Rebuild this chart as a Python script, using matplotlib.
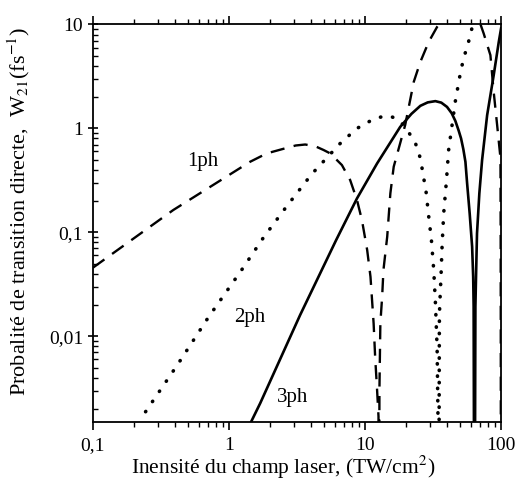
import matplotlib.pyplot as plt
from matplotlib.ticker import FixedLocator, FixedFormatter, LogLocator, NullFormatter

plt.rcParams['font.family'] = ['Liberation Serif', 'DejaVu Serif']
plt.rcParams['mathtext.fontset'] = 'stix'

# 1ph (dashed)
x1 = [0.1, 0.39, 1.43, 1.90, 2.67, 3.1, 3.64, 4.3, 4.97, 5.56, 6.78, 7.80, 8.75, 9.52,
      10.4, 11.0, 11.6, 11.9, 12.3, 12.6, 12.7, 12.8, 13.0, 13.4, 13.7, 14.6, 15.4, 16.3,
      17.2, 19.8, 22.9, 25.6, 29.5, 34.0, 40.0, 50.0, 62.0, 70.0, 74.8, 83.8, 88.6, 93.9,
      99.4, 99.7, 99.9, 100.0]
y1 = [0.0457, 0.164, 0.477, 0.575, 0.65, 0.685, 0.70, 0.675, 0.62, 0.575, 0.444, 0.318,
      0.205, 0.131, 0.0676, 0.0374, 0.0133, 0.00637, 0.00305, 0.00169, 0.00001, 0.00305,
      0.0133, 0.024, 0.0434, 0.0908, 0.237, 0.428, 0.553, 1.08, 2.81, 4.37, 6.81, 9.49,
      12.5, 14.0, 13.0, 10.5, 8.19, 5.07, 2.25, 1.08, 0.518, 0.1, 0.01, 0.001]

# 2ph (dotted)
x2 = [0.244, 0.418, 0.706, 1.24, 1.80, 2.67, 4.07, 6.66, 8.75, 11.6, 13.5, 15.4, 17.5,
      19.8, 23.5, 25.6, 28.2, 29.8, 30.8, 32.1, 33.0, 34.0, 34.5, 34.8, 35.2, 35.3, 35.5,
      36.3, 37.0, 38.0, 39.8, 41.3, 46.3, 51.0, 54.6, 59.0, 66.0]
y2 = [0.00188, 0.0053, 0.0152, 0.0434, 0.0895, 0.179, 0.364, 0.728, 1.0, 1.23, 1.30,
      1.31, 1.22, 1.035, 0.728, 0.515, 0.245, 0.125, 0.0875, 0.0434, 0.0215, 0.00767,
      0.00164, 0.00001, 0.0025, 0.0134, 0.0193, 0.0374, 0.0755, 0.152, 0.313, 0.618,
      1.83, 3.72, 5.26, 7.43, 14.0]

# 3ph (solid)
x3 = [1.38, 1.70, 3.34, 6.15, 8.75, 12.3, 18.2, 22.0, 25.6, 29.0, 33.0, 36.5, 40.2,
      43.5, 46.3, 49.0, 51.0, 53.0, 54.9, 56.5, 59.0, 61.5, 62.6, 63.1, 64.0, 65.0, 65.7,
      66.8, 69.5, 72.8, 79.3, 88.6, 96.6, 100.4]
y3 = [0.0013, 0.00227, 0.016, 0.0843, 0.212, 0.460, 1.035, 1.38, 1.65, 1.78, 1.83, 1.77,
      1.61, 1.40, 1.18, 0.95, 0.80, 0.63, 0.477, 0.296, 0.152, 0.0728, 0.0374, 0.0193,
      0.00001, 0.0193, 0.0374, 0.0977, 0.237, 0.495, 1.34, 3.25, 6.81, 9.16]

labels = ['1ph', '2ph', '3ph']
label_x = [0.645, 1.43, 2.94]
label_y = [0.485, 0.0153, 0.00255]

xticks = [0.1, 1, 10, 100]
xtick_labels = ['0,1', '1', '10', '100']
yticks = [0.01, 0.1, 1, 10]
ytick_labels = ['0,01', '0,1', '1', '10']

fig = plt.figure(figsize=(5.19, 4.8), dpi=100)
ax = fig.add_axes([0.179, 0.121, 0.786, 0.828])

ax.plot(x1, y1, color='black', lw=1.7, linestyle=(0, (6, 4)))
ax.plot(x2, y2, color='black', lw=2.6, linestyle=(0, (0.1, 3.3)), dash_capstyle='round')
ax.plot(x3, y3, color='black', lw=1.9)

for lab, lx, ly in zip(labels, label_x, label_y):
    ax.text(lx, ly, lab, fontsize=15, ha='center', va='center')

ax.set_xscale('log')
ax.set_yscale('log')
ax.set_xlim(0.1, 100)
ax.set_ylim(0.0015, 10)

ax.xaxis.set_major_locator(FixedLocator(xticks))
ax.xaxis.set_major_formatter(FixedFormatter(xtick_labels))
ax.xaxis.set_minor_locator(LogLocator(base=10, subs=range(2, 10)))
ax.xaxis.set_minor_formatter(NullFormatter())
ax.yaxis.set_major_locator(FixedLocator(yticks))
ax.yaxis.set_major_formatter(FixedFormatter(ytick_labels))
ax.yaxis.set_minor_locator(LogLocator(base=10, subs=range(2, 10)))
ax.yaxis.set_minor_formatter(NullFormatter())

ax.tick_params(axis='x', which='both', direction='out', top=True, labelsize=14)
ax.tick_params(axis='x', which='major', length=6, width=1.2, pad=5)
ax.tick_params(axis='x', which='minor', length=3.5, width=1)
ax.tick_params(axis='y', which='major', direction='inout', length=7, width=1.2, labelsize=14)
ax.tick_params(axis='y', which='minor', direction='in', length=3.5, width=1)

for s in ax.spines.values():
    s.set_linewidth(1.3)

ax.set_xlabel('Inensité du champ laser, (TW/cm$^2$)', fontsize=15.5)
ax.set_ylabel('Probalité de transition directe,  W$_{21}$(fs$^{-1}$)', fontsize=16)
ax.xaxis.set_label_coords(0.466, -0.08)
ax.yaxis.set_label_coords(-0.15, 0.53)

fig.savefig('out.png', dpi=100)
